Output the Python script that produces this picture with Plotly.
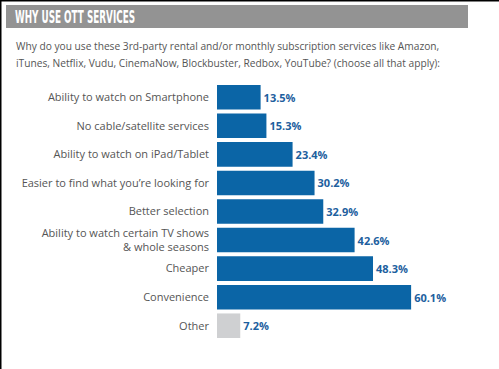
import plotly.graph_objects as go

categories = [
    "Ability to watch on Smartphone",
    "No cable/satellite services",
    "Ability to watch on iPad/Tablet",
    "Easier to find what you’re looking for",
    "Better selection",
    "Ability to watch certain TV shows<br>& whole seasons",
    "Cheaper",
    "Convenience",
    "Other",
]
values = [13.5, 15.3, 23.4, 30.2, 32.9, 42.6, 48.3, 60.1, 7.2]
value_labels = ["13.5%", "15.3%", "23.4%", "30.2%", "32.9%", "42.6%", "48.3%", "60.1%", "7.2%"]
bar_colors = ["#0b65a6"] * 8 + ["#cfd0d2"]

title_text = "WHY USE OTT SERVICES"
subtitle_lines = [
    "Why do you use these 3rd-party rental and/or monthly subscription services like Amazon,",
    "iTunes, Netflix, Vudu, CinemaNow, Blockbuster, Redbox, YouTube? (choose all that apply):",
]

W, H = 499, 369
L, R, T, B = 217, 29, 83, 29
PW, PH = W - L - R, H - T - B
XMAX = PW / 3.23

def px(x):
    return (x - L) / PW

def py(y):
    return 1 - (y - T) / PH

fig = go.Figure(go.Bar(
    x=values, y=categories, orientation="h",
    marker=dict(color=bar_colors, line=dict(width=0)),
    text=value_labels, textposition="outside", cliponaxis=False,
    textfont=dict(family="Open Sans", size=11, color="#1d609e", weight="bold"),
    width=0.86,
))

fig.update_layout(
    width=W, height=H,
    margin=dict(l=L, r=R, t=T, b=B),
    paper_bgcolor="white", plot_bgcolor="white",
    showlegend=False,
    xaxis=dict(range=[0, XMAX], visible=False, fixedrange=True),
    yaxis=dict(autorange="reversed", showgrid=False, zeroline=False, showline=False,
               ticks="", ticklabelstandoff=7, fixedrange=True,
               tickfont=dict(family="Open Sans", size=11, color="#555555")),
    font=dict(family="Open Sans"),
    shapes=[
        dict(type="rect", xref="paper", yref="paper", x0=px(6), x1=px(468), y0=py(28), y1=py(5),
             fillcolor="#939393", line=dict(width=0), layer="below"),
        dict(type="rect", xref="paper", yref="paper", x0=px(0), x1=px(499), y0=py(1.5), y1=py(0),
             fillcolor="black", line=dict(width=0)),
        dict(type="rect", xref="paper", yref="paper", x0=px(0), x1=px(1.5), y0=py(369), y1=py(0),
             fillcolor="black", line=dict(width=0)),
    ],
    annotations=[
        dict(text=title_text, xref="paper", yref="paper", x=px(13), y=py(17),
             xanchor="left", yanchor="middle", showarrow=False, name="title",
             font=dict(family="DejaVu Sans Condensed", size=17, color="white", weight="bold")),
        dict(text=subtitle_lines[0], xref="paper", yref="paper", x=px(14), y=py(46),
             xanchor="left", yanchor="middle", showarrow=False,
             font=dict(family="Open Sans", size=10.2, color="#555555")),
        dict(text=subtitle_lines[1], xref="paper", yref="paper", x=px(14), y=py(63),
             xanchor="left", yanchor="middle", showarrow=False,
             font=dict(family="Open Sans", size=10.2, color="#555555")),
    ],
)

post = """
document.body.style.margin='0';
var t = document.querySelector('.annotation-text');
if (t) {
  var w0 = t.getComputedTextLength();
  var cx = parseFloat(t.getAttribute('x'));
  t.setAttribute('textLength', '120');
  t.setAttribute('lengthAdjust', 'spacingAndGlyphs');
  t.setAttribute('x', cx - w0 / 2 + 60);
}
"""

fig.write_html("out.html", config={"displayModeBar": False, "staticPlot": True}, post_script=post)
